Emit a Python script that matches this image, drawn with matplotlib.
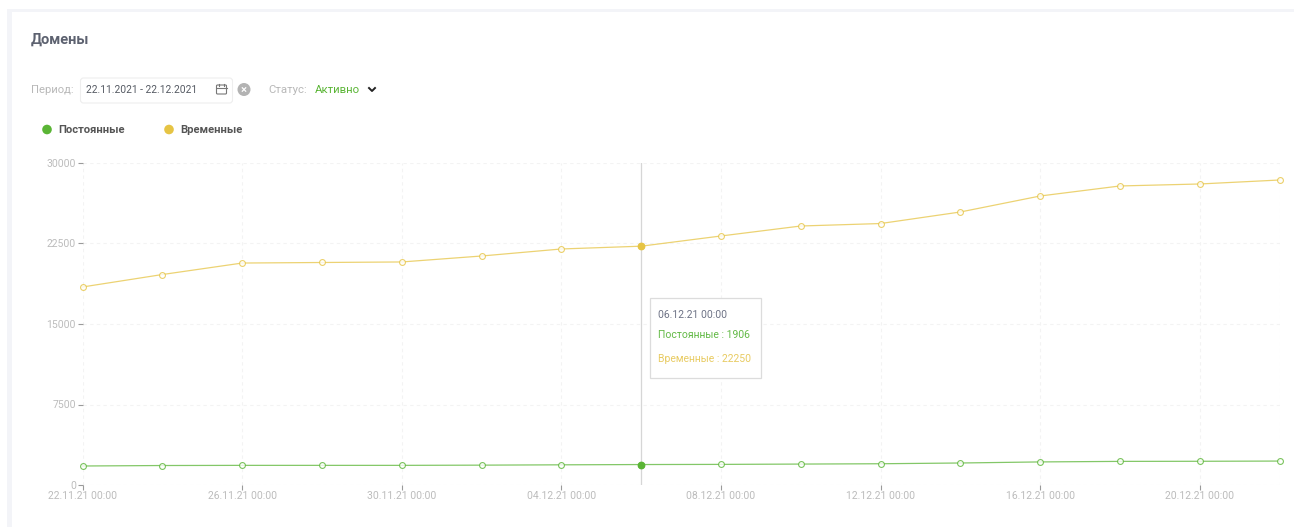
"""
Domains chart: permanent and temporary domains over a period.
"""

import matplotlib

matplotlib.use("Agg")
import matplotlib.pyplot as plt
from matplotlib.patches import Circle, FancyBboxPatch, Rectangle

# ###########################################################
# Data
# ###########################################################

dates = [
    "22.11.21 00:00", "24.11.21 00:00", "26.11.21 00:00", "28.11.21 00:00",
    "30.11.21 00:00", "02.12.21 00:00", "04.12.21 00:00", "06.12.21 00:00",
    "08.12.21 00:00", "10.12.21 00:00", "12.12.21 00:00", "14.12.21 00:00",
    "16.12.21 00:00", "18.12.21 00:00", "20.12.21 00:00", "22.12.21 00:00",
]
permanent = [1770, 1815, 1830, 1830, 1830, 1850, 1880, 1906,
             1920, 1950, 1980, 2050, 2150, 2200, 2210, 2230]
temporary = [18450, 19610, 20680, 20730, 20780, 21335, 21990, 22250,
             23200, 24130, 24360, 25435, 26925, 27860, 28045, 28415]
yticks = [0, 7500, 15000, 22500, 30000]
active_idx = 7

GREEN = "#5ab535"
YELLOW = "#e6c444"
TICK_TXT = "#bcbcbc"

plt.rcParams["font.family"] = ["Roboto", "DejaVu Sans"]

W, H = 1294, 527
fig = plt.figure(figsize=(W / 100, H / 100), dpi=100, facecolor="white")

# ###########################################################
# Page elements in pixel coordinates
# ###########################################################

ui = fig.add_axes([0, 0, 1, 1], zorder=0)
ui.set_xlim(0, W)
ui.set_ylim(H, 0)
ui.axis("off")

ui.add_patch(Rectangle((7, 9), W - 7, 3, fc="#f3f4f8", ec="none"))
ui.add_patch(Rectangle((7, 9), 5, H - 9, fc="#f3f4f8", ec="none"))

ui.text(31, 40, "Домены", fontsize=10.5, fontweight="bold", color="#5d6270", va="center")

ui.text(31, 90, "Период:", fontsize=8.1, color="#b8b8b8", va="center")
ui.add_patch(FancyBboxPatch((80.5, 78), 152, 25, boxstyle="round,pad=0,rounding_size=3",
                            fc="white", ec="#eeeeee", lw=0.8))
ui.text(85.5, 90, "22.11.2021 - 22.12.2021", fontsize=7.4, color="#555a63", va="center")

# calendar icon
ui.add_patch(FancyBboxPatch((216.5, 85), 10, 9, boxstyle="round,pad=0,rounding_size=1",
                            fc="none", ec="#777777", lw=0.8))
ui.plot([216.5, 226.5], [88, 88], color="#777777", lw=0.8)
ui.plot([219, 219], [83.5, 85.5], color="#777777", lw=0.8)
ui.plot([224, 224], [83.5, 85.5], color="#777777", lw=0.8)

# clear button
ui.add_patch(Circle((244, 89.5), 6.5, fc="#b3b3b3", ec="none"))
ui.plot([242.3, 245.7], [87.8, 91.2], color="white", lw=0.9)
ui.plot([242.3, 245.7], [91.2, 87.8], color="white", lw=0.9)

ui.text(268.5, 90, "Статус:", fontsize=8.2, color="#b8b8b8", va="center")
ui.text(315, 90, "Активно", fontsize=8.2, color=GREEN, va="center")
ui.plot([369, 372, 375], [88, 91, 88], color="#222222", lw=1.4)

# legend
ui.add_patch(Circle((47, 129.5), 4.8, fc=GREEN, ec="none"))
ui.text(58, 130, "Постоянные", fontsize=8.1, fontweight="bold", color="#555555", va="center")
ui.add_patch(Circle((169, 129.5), 4.8, fc=YELLOW, ec="none"))
ui.text(180.5, 130, "Временные", fontsize=8.1, fontweight="bold", color="#555555", va="center")

# ###########################################################
# Chart
# ###########################################################

ax = fig.add_axes([82.6 / W, 1 - 485 / H, (1279.5 - 82.6) / W, (485 - 163) / H], zorder=1)
ax.patch.set_alpha(0)
xs = list(range(len(dates)))

for series, col in ((permanent, GREEN), (temporary, YELLOW)):
    ax.plot(xs, series, color=col, lw=0.9, alpha=0.75, zorder=3, clip_on=False)
    ax.plot(xs, series, ls="none", marker="o", ms=4.2, mfc="white", mec=col, mew=0.8,
            alpha=0.8, clip_on=False, zorder=4)
    ax.plot(xs[active_idx], series[active_idx], "o", color=col, ms=4.6, clip_on=False, zorder=5)

ax.axvline(active_idx, color="#d6d6d6", lw=0.9, zorder=2)

ax.set_xlim(0, len(dates) - 1)
ax.set_ylim(yticks[0], yticks[-1])
ax.set_yticks(yticks)
ax.set_xticks(xs[::2] + [xs[-1]])
ax.set_xticklabels(dates[::2] + [""])
ax.tick_params(axis="both", length=3.8, width=0.8, color="#9a9a9a", labelcolor=TICK_TXT, labelsize=7.5)
ax.tick_params(axis="y", pad=1)
ax.tick_params(axis="x", pad=0.7)
ax.xaxis.get_major_ticks()[-1].tick1line.set_visible(False)
for spine in ax.spines.values():
    spine.set_visible(False)
ax.grid(True, color="#f3f3f3", lw=0.8, linestyle=(0, (3, 3)), zorder=1)
ax.set_axisbelow(True)

# ###########################################################
# Tooltip in pixel coordinates
# ###########################################################

top = fig.add_axes([0, 0, 1, 1], zorder=2)
top.set_xlim(0, W)
top.set_ylim(H, 0)
top.axis("off")
top.add_patch(Rectangle((650, 298), 110.5, 79.5, fc="white", ec="#dcdcdc", lw=0.9))
top.text(658.5, 315.5, dates[active_idx], fontsize=7.5, color="#6d7285", va="center")
top.text(658.5, 335.5, f"Постоянные : {permanent[active_idx]}", fontsize=7.5, color="#62b945", va="center")
top.text(658.5, 358.5, f"Временные : {temporary[active_idx]}", fontsize=7.5, color="#e8cb62", va="center")

fig.savefig("out.png", dpi=100, facecolor="white")
